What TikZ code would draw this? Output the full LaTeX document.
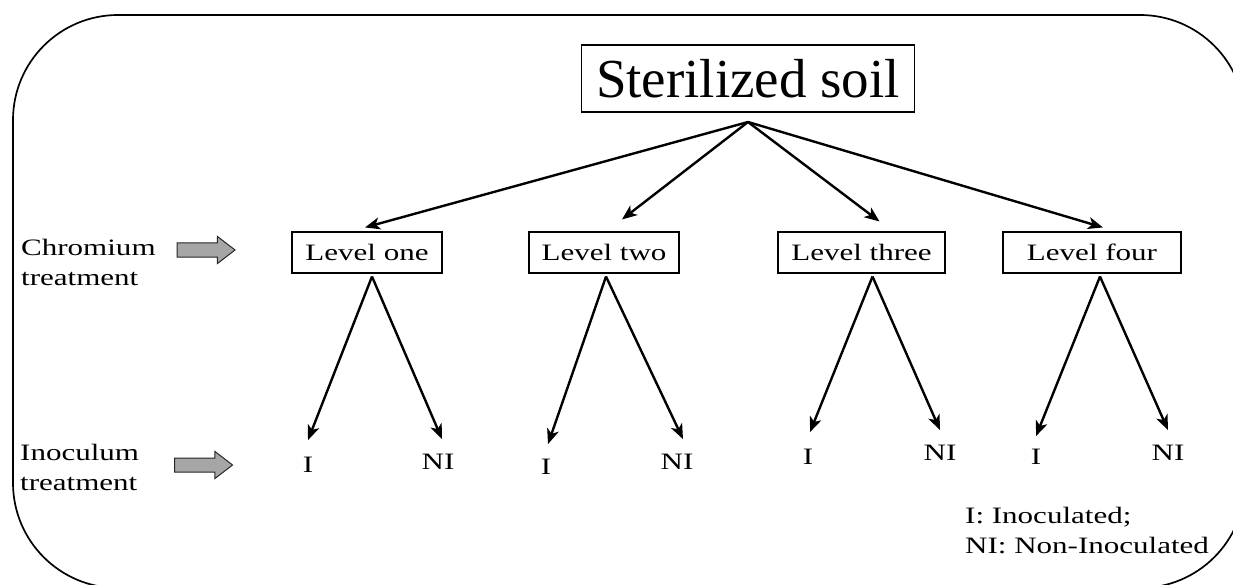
\documentclass[tikz,border=0pt]{standalone}
\usepackage{fontspec}
\setmainfont[FakeStretch=1.32]{Liberation Serif}
\newfontfamily\titlefont{Liberation Serif}
\usetikzlibrary{arrows.meta,shapes.arrows}
\begin{document}
\begin{tikzpicture}[x=1pt,y=-1pt,
  lvl/.style={draw, line width=1.1pt, minimum height=41pt, inner sep=0pt, font=\fontsize{23.5}{28}\selectfont},
  conn/.style={line width=2.4pt, -{Stealth[length=15pt,width=12pt,inset=4pt]}},
  lab/.style={inner sep=0pt, font=\fontsize{23.5}{28}\selectfont},
  side/.style={inner sep=0pt, anchor=base west, align=left, font=\fontsize{23.5}{30}\selectfont},
  garrow/.style={single arrow, draw=black!85, fill=black!35, line width=1pt, inner xsep=0pt, inner ysep=6.5pt,
    single arrow head extend=6.5pt, single arrow tip angle=75, minimum height=58pt}]
\useasboundingbox (0,0) rectangle (1233,585);
\begin{scope}
\clip (0,0) rectangle (1233,585);
\draw[line width=1.7pt, rounded corners=105pt] (1245,180) -- (1245,15) -- (13,15) -- (13,588) -- (1245,588) -- (1245,420);
\end{scope}

\node[draw, line width=1.1pt, minimum width=333pt, minimum height=67pt, inner sep=0pt,
  font=\titlefont\fontsize{55}{60}\selectfont] (soil) at (748,78.5) {Sterilized soil};
\coordinate (apex) at (748,122);

\node[lvl, minimum width=150pt] (l1) at (367,252.5) {Level one};
\node[lvl, minimum width=150pt] (l2) at (604,252.5) {Level two};
\node[lvl, minimum width=167pt] (l3) at (861.5,252.5) {Level three};
\node[lvl, minimum width=178pt] (l4) at (1092,252.5) {Level four};

\draw[conn] (apex) -- ([xshift=-2pt,yshift=4pt]l1.north);
\draw[conn] (apex) -- ([xshift=18pt,yshift=12pt]l2.north);
\draw[conn] (apex) -- ([xshift=18pt,yshift=10pt]l3.north);
\draw[conn] (apex) -- ([xshift=11pt,yshift=4pt]l4.north);

\node[lab] (i1) at (308,465) {I};
\node[lab] (n1) at (438,462) {NI};
\node[lab] (i2) at (546,467) {I};
\node[lab] (n2) at (677,462) {NI};
\node[lab] (i3) at (808,457) {I};
\node[lab] (n3) at (940,453) {NI};
\node[lab] (i4) at (1036,457) {I};
\node[lab] (n4) at (1168,453) {NI};

\draw[conn] ([xshift=5pt,yshift=-3pt]l1.south) -- ([yshift=17pt]i1.north);
\draw[conn] ([xshift=5pt,yshift=-3pt]l1.south) -- ([xshift=4pt,yshift=15pt]n1.north);
\draw[conn] ([xshift=2pt,yshift=-3pt]l2.south) -- ([xshift=2pt,yshift=15pt]i2.north);
\draw[conn] ([xshift=2pt,yshift=-3pt]l2.south) -- ([xshift=6pt,yshift=15pt]n2.north);
\draw[conn] ([xshift=11pt,yshift=-3pt]l3.south) -- ([xshift=2pt,yshift=17pt]i3.north);
\draw[conn] ([xshift=11pt,yshift=-3pt]l3.south) -- ([yshift=15pt]n3.north);
\draw[conn] ([xshift=8pt,yshift=-3pt]l4.south) -- ([yshift=13pt]i4.north);
\draw[conn] ([xshift=8pt,yshift=-3pt]l4.south) -- ([yshift=15pt]n4.north);

\node[side] (chr) at (21,285) {Chromium\\treatment};
\node[side] (ino) at (20,490) {Inoculum\\treatment};
\node[garrow] (a1) at (201.5,250) {};
\node[garrow] (a2) at (199,465) {};

\node[side] (leg) at (965,553) {I: Inoculated;\\NI: Non-Inoculated};
\end{tikzpicture}
\end{document}
